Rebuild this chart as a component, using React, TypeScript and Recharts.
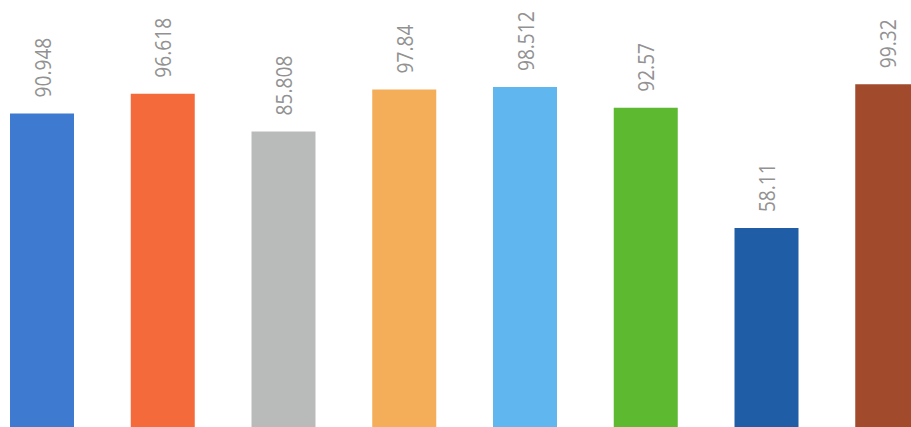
import React from 'react';
import { BarChart, Bar, XAxis, YAxis, Cell, LabelList } from 'recharts';

// 表示されている8本の棒（元の図は切り抜き）
const categories = ['A', 'B', 'C', 'D', 'E', 'F', 'G', 'H'];
const values = [90.948, 96.618, 85.808, 97.84, 98.512, 92.57, 58.11, 99.32];
const labels = ['90.948', '96.618', '85.808', '97.84', '98.512', '92.57', '58.11', '99.32'];
const colors = ['#3E7BD0', '#F46A3A', '#B9BBBA', '#F4AD58', '#60B6EE', '#5CB930', '#1F5EA6', '#A14A2C'];

const data = categories.map((name, i) => ({ name, value: values[i], label: labels[i] }));

/**
 * 縦書き（-90度回転）の値ラベル
 */
const RotatedLabel = (props: any) => {
  const { x, y, width, value } = props;
  const cx = x + width / 2;
  const ty = y - 16;
  return (
    <text
      x={0}
      y={0}
      transform={`translate(${cx}, ${ty}) rotate(-90) scale(0.87, 1)`}
      textAnchor="start"
      dominantBaseline="central"
      fill="#929292"
      fontSize={22}
      fontFamily="'Open Sans', sans-serif"
    >
      {value}
    </text>
  );
};

export default function App() {
  return (
    <div style={{ position: 'fixed', left: 0, top: 0, width: 911, height: 427, overflow: 'hidden', background: '#fff' }}>
      <div style={{ position: 'absolute', left: -18, top: 0 }}>
        <BarChart
          width={966}
          height={431}
          data={data}
          margin={{ top: 12, right: 0, bottom: 0, left: 0 }}
        >
          <XAxis dataKey="name" hide />
          <YAxis domain={[0, 120]} hide />
          <Bar dataKey="value" barSize={64} isAnimationActive={false}>
            {data.map((entry, index) => (
              <Cell key={`cell-${index}`} fill={colors[index]} />
            ))}
            <LabelList dataKey="label" content={RotatedLabel} />
          </Bar>
        </BarChart>
      </div>
    </div>
  );
}
